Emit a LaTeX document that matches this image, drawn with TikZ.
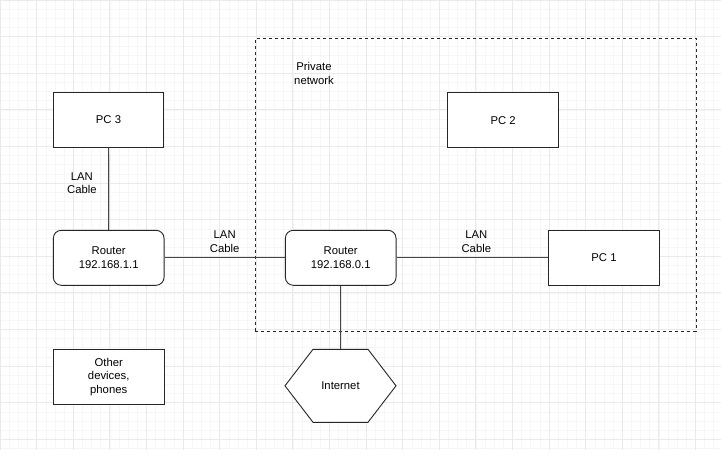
\documentclass[tikz,border=0pt]{standalone}
\usepackage{fontspec}
\setmainfont{Liberation Sans}
\usepackage{xcolor}
\usepackage{tikz}
\usetikzlibrary{positioning, arrows.meta}

\definecolor{gridminor}{HTML}{F6F6F6}
\definecolor{gridmajor}{HTML}{EAEAEA}
\definecolor{edgegray}{HTML}{444444}

\begin{document}
\begin{tikzpicture}[
    x=1pt, y=-1pt,
    % Define styles for the nodes and paths
        every node/.style={font=\fontsize{11.3}{13.4}\selectfont},
        box/.style={draw=black!85, rectangle, line width=0.9pt, fill=white, align=center, minimum width=110.7pt, minimum height=55pt, inner sep=0pt},
        router/.style={box, rounded corners=8pt},
        groupbox/.style={draw=black!85, rectangle, line width=0.9pt, dash pattern=on 3pt off 3pt, minimum width=440.7pt, minimum height=293pt, inner sep=0pt},
        textnode/.style={align=center, inner sep=0pt},
        hexbox/.style={align=center, minimum width=111pt, minimum height=73pt, inner sep=0pt},
        hexline/.style={draw=black!85, line width=0.9pt, fill=white},
        cable/.style={draw=edgegray, line width=0.9pt}
    ]

        % Grid background
        \useasboundingbox (0,0) rectangle (721,450);
        \fill[white] (0,0) rectangle (721,450);
        \draw[gridminor, line width=0.5pt, step=9.15pt] (0,0) grid (721,450);
        \draw[gridmajor, line width=0.7pt, step=36.6pt] (0,0) grid (721,450);

        % Private network area
        \node[groupbox] (privnet) at (475.7,184.5) {};
        \node[textnode] (privlabel) at (314,73.4) {Private\\network};

        % Define the nodes
        \node[box] (pc3) at (108.5,120) {PC 3};

        \node[router] (router1) at (108.7,257.8) {Router\\192.168.1.1};

        \node[box] (other) at (108.7,376.8) {Other\\devices,\\phones};

        \node[router] (router2) at (340.7,257.8) {Router\\192.168.0.1};

        \node[box] (pc2) at (503.2,120.3) {PC 2};

        \node[box] (pc1) at (604,257.8) {PC 1};

        % Hexagon for the internet
        \coordinate (hexc) at (340.5,385.8);
        \draw[hexline] ([shift={(-55.5,0)}]hexc) -- ([shift={(-27.5,-36.5)}]hexc)
            -- ([shift={(27.5,-36.5)}]hexc) -- ([shift={(55.5,0)}]hexc)
            -- ([shift={(27.5,36.5)}]hexc) -- ([shift={(-27.5,36.5)}]hexc) -- cycle;
        \node[hexbox] (internet) at (hexc) {Internet};

        % Draw the cables with inline labels
        \draw[cable] (pc3) -- node[textnode, midway, anchor=east, xshift=-11.5pt, yshift=5.5pt] (lan3) {LAN\\Cable} (router1);

        \draw[cable] (router1) -- node[textnode, midway, above=5pt] (lan1) {LAN\\Cable} (router2);

        \draw[cable] (router2) -- node[textnode, midway, above=5pt, xshift=4pt] (lan2) {LAN\\Cable} (pc1);

        \draw[cable] (router2) -- (internet);
    \end{tikzpicture}
\end{document}
